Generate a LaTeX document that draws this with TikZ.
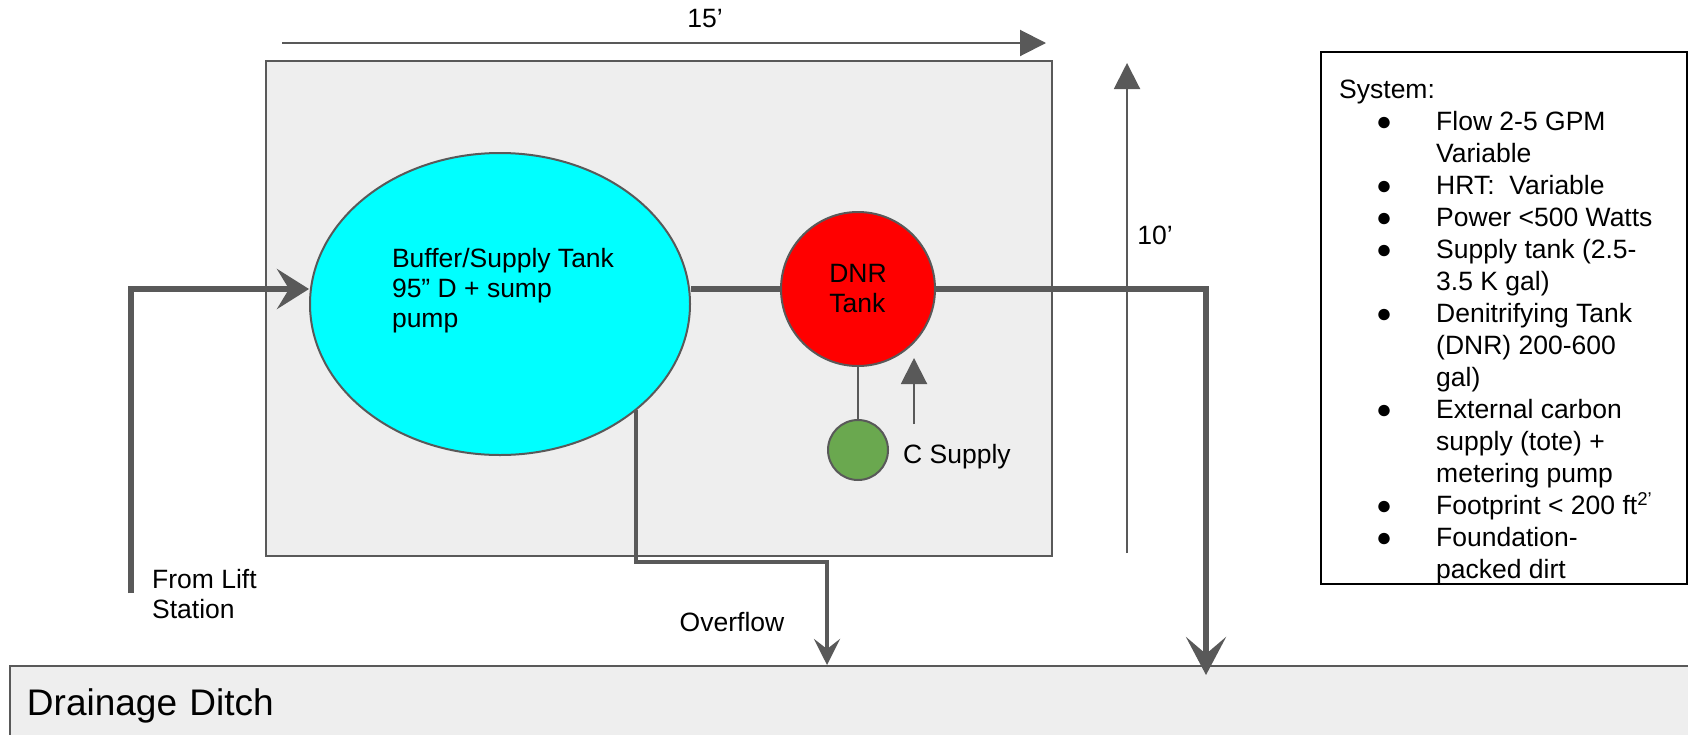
\documentclass[tikz,border=0pt]{standalone}
\usepackage{fontspec}
\setmainfont{Liberation Sans}
\usetikzlibrary{arrows.meta,positioning,shapes.geometric}

\definecolor{pipegray}{HTML}{595959}
\definecolor{padgray}{HTML}{EEEEEE}
\definecolor{tankcyan}{HTML}{00FFFF}
\definecolor{tankred}{HTML}{FF0000}
\definecolor{tankgreen}{HTML}{6AA84F}

\tikzset{
	lbl/.style={font=\fontsize{26.5}{30}\selectfont, inner sep=0pt},
	tank/.style={lbl, draw=pipegray, line width=2pt, align=left},
	area/.style={draw=pipegray, fill=padgray, line width=2pt, inner sep=0pt, anchor=north west},
	pipe/.style={draw=pipegray, line width=6.5pt},
	drain/.style={draw=pipegray, line width=4pt},
	dimline/.style={draw=pipegray, line width=2pt, -{Triangle[length=26pt,width=26pt]}}
}

% bullet column of the system list
\newcommand{\sysitem}{\makebox[97pt][l]{\hspace{37pt}●}}
\newcommand{\syscont}{\hspace*{97pt}}

\begin{document}
\begin{tikzpicture}[x=1pt,y=-1pt]
			\clip (0,0) rectangle (1688,734);
			% site and ditch
			\node[area, minimum width=786pt, minimum height=495pt] (pad) at (265,60) {};
			\node[area, minimum height=80pt, text width=1650pt, inner xsep=17pt, align=left,
				font=\fontsize{37}{42}\selectfont] (ditch) at (9,665) {Drainage Ditch};
			% tanks
			\node[tank, ellipse, fill=tankcyan, minimum width=380pt, minimum height=302pt] (buffer) at (500,304) {};
			\node[lbl, align=left] (bufferlbl) at (503,291) {Buffer/Supply Tank\\95” D + sump\\pump};
			\node[tank, circle, fill=tankred, minimum size=154pt] (dnr) at (858,289) {DNR\\Tank};
			\node[tank, circle, fill=tankgreen, minimum size=60pt] (csrc) at (858,450) {};
			\node[lbl, right=14pt of csrc, yshift=-7pt] (csupply) {C Supply};
			% labels
			\draw 
			(705,19) node[lbl](wlbl){15’} (1155,235) node[lbl](hlbl){10’}
			(152,594) node[lbl, align=left, anchor=west](liftlbl){From Lift\\Station}
			(732,622) node[lbl](ovlbl){Overflow};
			% dimensions
			\coordinate (wL) at (282,43);
			\coordinate (wR) at (1046,43);
			\coordinate (hB) at (1127,553);
			\coordinate (hT) at (1127,63);
			\draw[dimline] (wL) -- (wR);
			\draw[dimline] (hB) -- (hT);
			% piping
			\coordinate (inlet) at (131,593);
			\coordinate (inbend) at (131,289);
			\coordinate (outlet) at (1206,675);
			\coordinate (ovbend) at (827,562);
			\draw[pipe, -{Stealth[length=32pt,width=40pt,inset=12pt]}] (inlet) -- (inbend) -- (inbend -| buffer.west);
			\draw[pipe] (dnr.west) -- (dnr.west -| buffer.east);
			\draw[pipe, -{Stealth[length=38pt,width=40pt,inset=17pt]}] (dnr.east) -| (outlet);
			\draw[drain, -{Stealth[length=26pt,width=26pt,inset=10pt]}] (buffer.-38) |- (ovbend) -- (ovbend |- ditch.north);
			% carbon feed
			\coordinate (cfeedB) at (914,424);
			\coordinate (cfeedT) at (914,358);
			\draw[pipegray, line width=2pt] (dnr.south) -- (csrc.north);
			\draw[dimline] (cfeedB) -- (cfeedT);
			% system list
			\node[draw=black, line width=2pt, minimum width=366pt, minimum height=532pt, inner sep=0pt, anchor=north west] (sysbox) at (1320,51) {};
			\node[lbl, font=\fontsize{26.5}{32}\selectfont, align=left, anchor=north west] (syslist) at (1339,80)
				{System:\\
				\sysitem Flow 2-5 GPM\\
				\syscont Variable\\
				\sysitem HRT:\ \ Variable\\
				\sysitem Power <500 Watts\\
				\sysitem Supply tank (2.5-\\
				\syscont 3.5 K gal)\\
				\sysitem Denitrifying Tank\\
				\syscont (DNR) 200-600\\
				\syscont gal)\\
				\sysitem External carbon\\
				\syscont supply (tote) +\\
				\syscont metering pump\\
				\sysitem Footprint < 200 ft\textsuperscript{2’}\\
				\sysitem Foundation-\\
				\syscont packed dirt};
\end{tikzpicture}
\end{document}
